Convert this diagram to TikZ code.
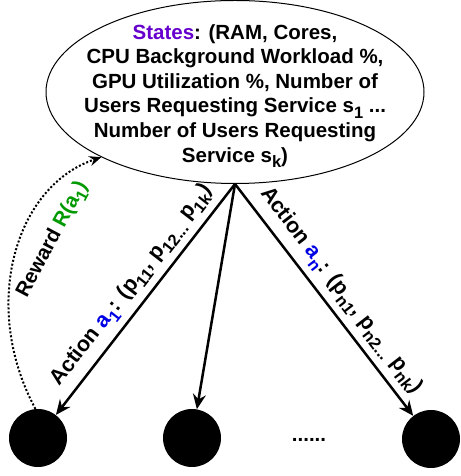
\documentclass[tikz,border=0pt]{standalone}
\usepackage{fontspec}
\setmainfont{Liberation Sans}
\usepackage{xcolor}
\usetikzlibrary{shapes.geometric, positioning, arrows.meta}

\definecolor{statecol}{RGB}{102,0,204}
\definecolor{actcol}{RGB}{0,0,230}
\definecolor{rewcol}{RGB}{0,153,0}
\newcommand{\subtxt}[1]{\raisebox{-0.28em}{\fontsize{16.5}{16.5}\selectfont #1}}

\begin{document}
\begin{tikzpicture}[x=1pt, y=1pt,
    every node/.style={font=\bfseries\fontsize{20.5}{24.6}\selectfont},
    act/.style={line width=2.5pt, -{Stealth[length=15pt, width=13pt, inset=5pt]}},
    leaf/.style={circle, fill=black, minimum size=58pt, inner sep=0pt},
    lbl/.style={sloped, above, inner sep=7pt, font=\bfseries\fontsize{21.5}{24}\selectfont}]
          \useasboundingbox (0,0) rectangle (460,476);

          \node[ellipse, draw, line width=1pt, minimum width=378pt, minimum height=183pt,
                inner sep=0pt] (S) at (235,384) {};
          \node[align=center, inner sep=0pt] (T) at ([yshift=-4pt]S.center)
                {\textcolor{statecol}{States}: (RAM, Cores,\\
                 CPU Background Workload \%,\\
                 GPU Utilization \%, Number of\\
                 Users Requesting Service s\subtxt{1} ...\\
                 Number of Users Requesting\\
                 Service s\subtxt{k})};

          \node[leaf] (A) at (38,38) {};
          \node[leaf] (B) at (192,38) {};
          \node[leaf] (C) at (431,37) {};
          \node (D) at (309,36) {......};

          \draw[act] (S.south) -- node[lbl, pos=0.49]
                {Action \textcolor{actcol}{a\subtxt{1}}: (p\subtxt{11}, p\subtxt{12...} p\subtxt{1k})} (A);
          \draw[act] (S.south) -- (B);
          \draw[act] (S.south) -- node[lbl, pos=0.51]
                {Action \textcolor{actcol}{a\subtxt{n}}: (p\subtxt{n1}, p\subtxt{n2...} p\subtxt{nk})} (C);

          \draw[line width=2pt, dash pattern=on 2pt off 2pt, -{Stealth[length=12pt, width=10pt, inset=4pt]}]
                (A.95) .. controls (-20,170) and (15,290) .. (S.206);
          \node[rotate=62] (R) at (53,236) {Reward \textcolor{rewcol}{R(a\subtxt{1})}};
        \end{tikzpicture}
\end{document}
